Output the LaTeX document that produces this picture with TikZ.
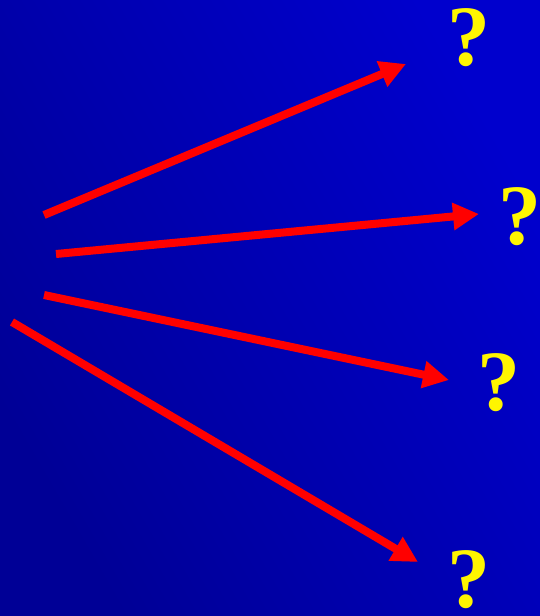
\documentclass[tikz,border=0pt]{standalone}
\usepackage{fontspec}
\setmainfont{Liberation Serif}
\usetikzlibrary{arrows.meta}
\definecolor{bgdark}{RGB}{0,0,150}
\definecolor{bglight}{RGB}{0,0,205}
\definecolor{qyellow}{RGB}{255,245,0}
\begin{document}
\begin{tikzpicture}[x=1pt,y=-1pt,
    ray/.style={draw=red, line width=8pt, -{Triangle[length=26pt,width=26pt]}},
    qmark/.style={text=qyellow, font=\fontsize{86}{86}\selectfont\bfseries, inner sep=0pt}]
            \useasboundingbox (0,0) rectangle (540,616);
            \shade [left color=bgdark, right color=bglight, shading angle=120] (0,0) rectangle (540,616);

            \node (q1) [qmark] at (469,38) {?};
            \node (q2) [qmark] at (520,217) {?};
            \node (q3) [qmark] at (499,383) {?};
            \node (q4) [qmark] at (469,580) {?};

            \coordinate (s1) at (44,215);
            \coordinate (s2) at (56,254);
            \coordinate (s3) at (44,295);
            \coordinate (s4) at (12,322);
            \coordinate (e1) at (406,64);
            \coordinate (e2) at (479,214);
            \coordinate (e3) at (449,380);
            \coordinate (e4) at (418,562);

            \draw [ray] (s1) -- (e1);
            \draw [ray] (s2) -- (e2);
            \draw [ray] (s3) -- (e3);
            \draw [ray] (s4) -- (e4);
        \end{tikzpicture}
\end{document}
